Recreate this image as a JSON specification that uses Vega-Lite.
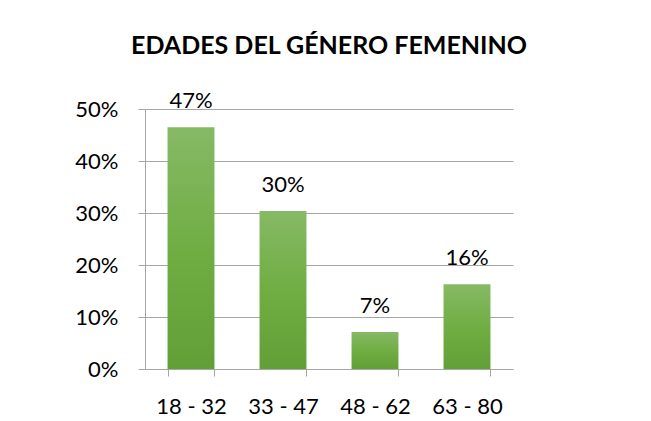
{
  "$schema": "https://vega.github.io/schema/vega-lite/v6.json",
  "width": 368,
  "height": 260,
  "autosize": "none",
  "padding": {"left": 145, "top": 109, "right": 138, "bottom": 52},
  "background": "white",
  "title": {
    "text": "EDADES DEL GÉNERO FEMENINO",
    "font": "Lato",
    "fontSize": 25,
    "fontWeight": "bold",
    "color": "#000000",
    "anchor": "middle",
    "baseline": "alphabetic",
    "offset": 11
  },
  "data": {
    "values": [
      {"edad": "18 - 32", "pct": 0.465},
      {"edad": "33 - 47", "pct": 0.304},
      {"edad": "48 - 62", "pct": 0.071},
      {"edad": "63 - 80", "pct": 0.163}
    ]
  },
  "encoding": {
    "x": {
      "field": "edad",
      "type": "nominal",
      "sort": null,
      "scale": {"paddingInner": 0.49, "paddingOuter": 0.245},
      "axis": {
        "title": null,
        "labelAngle": 0,
        "labelFont": "Lato",
        "labelFontSize": 22,
        "labelColor": "#000000",
        "labelPadding": 20,
        "domainColor": "#a6a6a6",
        "tickColor": "#a6a6a6",
        "tickSize": 7,
        "tickBand": "extent",
        "grid": false
      }
    },
    "y": {
      "field": "pct",
      "type": "quantitative",
      "scale": {"domain": [0, 0.5]},
      "axis": {
        "title": null,
        "format": ".0%",
        "values": [0, 0.1, 0.2, 0.3, 0.4, 0.5],
        "labelFont": "Lato",
        "labelFontSize": 22,
        "labelColor": "#000000",
        "labelPadding": 20,
        "domainColor": "#a6a6a6",
        "tickColor": "#a6a6a6",
        "tickSize": 7,
        "gridColor": "#a6a6a6",
        "gridWidth": 1
      }
    }
  },
  "layer": [
    {
      "mark": {
        "type": "bar",
        "color": {
          "gradient": "linear",
          "x1": 0, "y1": 0, "x2": 0, "y2": 1,
          "stops": [
            {"offset": 0, "color": "#86b965"},
            {"offset": 0.5, "color": "#70ae44"},
            {"offset": 1, "color": "#629f36"}
          ]
        }
      }
    },
    {
      "mark": {
        "type": "text",
        "font": "Lato",
        "fontSize": 22,
        "color": "#000000",
        "baseline": "bottom",
        "dy": -14
      },
      "encoding": {
        "text": {"field": "pct", "type": "quantitative", "format": ".0%"}
      }
    }
  ],
  "config": {
    "view": {"stroke": null}
  }
}
